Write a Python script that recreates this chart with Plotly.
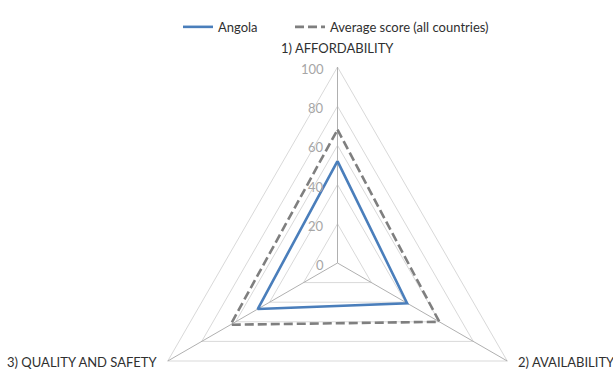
import numpy as np
import plotly.graph_objects as go

# Index pillars and scores (0-100)
pillars = ["1) AFFORDABILITY", "2) AVAILABILITY", "3) QUALITY AND SAFETY"]
angola = [52, 41, 47]
average = [68, 60, 63]
radial_ticks = [0, 20, 40, 60, 80, 100]

FONT = "Lato, Open Sans, sans-serif"
SCALE = 1.96          # pixels per score point
CX, CY = 337.5, 263   # chart centre in pixels
W, H = 613, 372

# spokes start at the top and run clockwise
angles = np.deg2rad(90 - 120 * np.arange(len(pillars)))


def ring(values):
    """Radar polygon (closed) for one value per pillar."""
    r = np.append(values, values[0]).astype(float)
    a = np.append(angles, angles[0])
    return r * np.cos(a), r * np.sin(a)


fig = go.Figure()

# triangular grid rings
for t in radial_ticks[1:]:
    gx, gy = ring([t] * len(pillars))
    fig.add_trace(go.Scatter(x=gx, y=gy, mode="lines",
                             line=dict(color="#d9d9d9", width=1),
                             showlegend=False, hoverinfo="skip"))

# spokes from the centre to each pillar
top = radial_ticks[-1]
for a in angles:
    fig.add_trace(go.Scatter(x=[0, top * np.cos(a)], y=[0, top * np.sin(a)],
                             mode="lines", line=dict(color="#b0b0b0", width=1),
                             showlegend=False, hoverinfo="skip"))

ax_, ay_ = ring(angola)
fig.add_trace(go.Scatter(x=ax_, y=ay_, mode="lines", name="Angola",
                         line=dict(color="#4a7ebb", width=2.6), legend="legend"))
vx, vy = ring(average)
fig.add_trace(go.Scatter(x=vx, y=vy, mode="lines",
                         name="Average score (all countries)",
                         line=dict(color="#7f7f7f", width=2.6, dash="9px,4px"),
                         legend="legend2"))

annotations = []
# radial tick labels along the top spoke
for t in radial_ticks:
    annotations.append(dict(x=0, y=t, text=str(t), showarrow=False,
                            xanchor="right", yanchor="middle", xshift=-12, yshift=-2,
                            font=dict(family=FONT, size=13, color="#a6a6a6")))
# pillar labels beyond the outer ring
label_style = [
    dict(xanchor="center", yanchor="bottom", xshift=0, yshift=9),
    dict(xanchor="left", yanchor="middle", xshift=9, yshift=-1),
    dict(xanchor="right", yanchor="middle", xshift=-8, yshift=-1),
]
for name, a, st in zip(pillars, angles, label_style):
    annotations.append(dict(x=top * np.cos(a), y=top * np.sin(a), text=name,
                            showarrow=False,
                            font=dict(family=FONT, size=13, color="#303030"), **st))

legend_style = dict(orientation="h", xanchor="left", y=0.968, yanchor="top",
                    font=dict(family=FONT, size=13, color="#303030"),
                    bgcolor="rgba(0,0,0,0)")

fig.update_layout(
    width=W, height=H,
    margin=dict(l=0, r=0, t=0, b=0),
    paper_bgcolor="white", plot_bgcolor="white",
    font=dict(family=FONT, size=13, color="#303030"),
    showlegend=True,
    legend=dict(x=178 / W, **legend_style),
    legend2=dict(x=290 / W, **legend_style),
    xaxis=dict(range=[-CX / SCALE, (W - CX) / SCALE], visible=False, fixedrange=True),
    yaxis=dict(range=[-(H - CY) / SCALE, CY / SCALE], visible=False, fixedrange=True),
    annotations=annotations,
)

fig.write_html("out.html")
